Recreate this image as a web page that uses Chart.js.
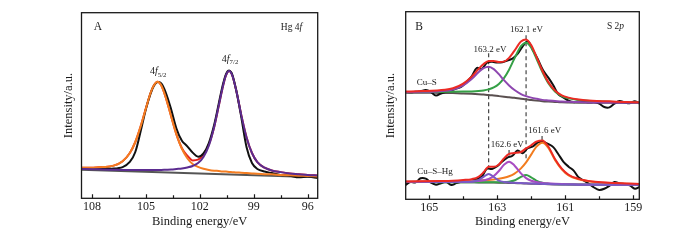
<!DOCTYPE html>
<html>
<head>
<meta charset="utf-8">
<title>Hg 4f and S 2p XPS spectra</title>
<script src="https://cdn.jsdelivr.net/npm/chart.js@4.4.1/dist/chart.umd.min.js"></script>
<style>
  html, body { margin: 0; padding: 0; background: #fff; }
  .wrap { position: relative; width: 700px; height: 240px; }
  .wrap canvas { position: absolute; top: 0; }
  #chartA { left: 0; }
  #chartB { left: 350px; }
</style>
</head>
<body>
<div class="wrap">
  <canvas id="chartA" width="350" height="240"></canvas>
  <canvas id="chartB" width="350" height="240"></canvas>
</div>
<script>
// ---- Panel A: Hg 4f ----
const eA = [108.6, 108, 107.4, 106.8, 106.3, 105.9, 105.6, 105.3, 105.0, 104.75, 104.55, 104.36, 104.15, 103.9, 103.6, 103.3, 103.0, 102.7, 102.4, 102.1, 101.8, 101.5, 101.2, 100.95, 100.75, 100.55, 100.37, 100.2, 99.95, 99.7, 99.4, 99.1, 98.8, 98.4, 98.0, 97.5, 97.0, 96.5, 96.0, 95.44];
const hgData = [16.3, 15.9, 16.1, 16.0, 16.8, 19.6, 24.8, 36.0, 48.2, 56.3, 60.8, 62.6, 61.9, 57.0, 48.0, 37.5, 31.0, 28.0, 24.6, 22.4, 24.2, 29.8, 39.8, 51.0, 60.0, 66.8, 68.8, 66.8, 57.0, 44.0, 27.5, 19.0, 15.8, 14.4, 13.6, 12.6, 12.2, 11.3, 11.7, 11.0];
const hg5 = [16.4, 16.5, 16.8, 17.6, 20.0, 24.4, 30.2, 38.6, 48.6, 56.6, 61.0, 62.8, 60.9, 54.4, 44.2, 34.3, 26.7, 21.6, 18.5, 16.9, 15.9, 15.3, 14.9, 14.7, 14.5, 14.4, 14.2, 14.1, 13.9, 13.8, 13.6, 13.4, 13.2, 13.0, 12.9, 12.6, 12.4, 12.2, 12.0, 11.8];
const hg7 = [15.8, 15.7, 15.5, 15.4, 15.3, 15.3, 15.2, 15.2, 15.2, 15.2, 15.2, 15.3, 15.3, 15.4, 15.5, 15.8, 16.1, 16.6, 17.4, 19.0, 22.3, 28.4, 38.6, 49.8, 58.9, 66.2, 68.6, 66.3, 57.0, 45.1, 32.8, 24.4, 19.5, 16.5, 15.0, 14.1, 13.4, 13.0, 12.6, 12.3];
const hgFit = [16.4, 16.5, 16.8, 17.6, 20.0, 24.4, 30.2, 38.6, 48.6, 56.6, 61.0, 62.8, 60.9, 54.4, 44.2, 34.3, 27.0, 23.0, 20.4, 20.8, 23.6, 29.0, 38.6, 49.8, 58.9, 66.2, 68.6, 66.3, 57.0, 45.1, 32.8, 24.4, 19.5, 16.5, 15.0, 14.1, 13.4, 13.0, 12.6, 12.3];
const eAbase = [108.6, 95.44];
const hgBase = [15.4, 11.3];
const ticksA = [108, 105, 102, 99, 96];
const minorA = [106.5, 103.5, 100.5, 97.5];

// ---- Panel B: S 2p ----
const eB = [165.7, 165.2, 164.7, 164.3, 164.0, 163.75, 163.55, 163.4, 163.25, 163.1, 162.95, 162.8, 162.65, 162.5, 162.3, 162.15, 162.0, 161.85, 161.67, 161.5, 161.3, 161.1, 160.9, 160.6, 160.2, 159.7, 159.2, 158.8];
const cuSBase = [56.8, 56.8, 56.7, 56.6, 56.4, 56.2, 56.0, 55.8, 55.6, 55.3, 55.0, 54.7, 54.4, 54.1, 53.6, 53.3, 52.9, 52.6, 52.3, 52.1, 51.9, 51.7, 51.6, 51.5, 51.4, 51.4, 51.3, 51.3];
const cuS163 = [57.1, 57.3, 57.6, 58.5, 60.7, 64.1, 67.7, 69.9, 70.7, 69.4, 66.7, 63.5, 60.7, 58.4, 56.1, 55.0, 54.2, 53.6, 53.0, 52.7, 52.4, 52.1, 52.0, 51.8, 51.6, 51.6, 51.4, 51.4];
const cuS162 = [57.1, 57.2, 57.2, 57.3, 57.4, 57.5, 57.7, 58.0, 58.6, 59.6, 61.5, 64.6, 69.1, 74.7, 81.6, 83.5, 80.9, 75.2, 67.8, 62.0, 57.5, 55.0, 53.8, 52.9, 52.3, 52.0, 51.7, 51.6];
const cuSFit = [57.4, 57.7, 58.1, 59.2, 61.7, 65.4, 69.4, 72.1, 73.7, 73.7, 73.2, 73.4, 75.4, 79.0, 84.1, 85.2, 82.2, 76.2, 68.5, 62.6, 58.0, 55.4, 54.2, 53.2, 52.5, 52.2, 51.8, 51.7];
const cuSHgBase = [9.2, 9.2, 9.15, 9.1, 9.1, 9.05, 9.0, 9.0, 8.95, 8.9, 8.85, 8.8, 8.75, 8.65, 8.55, 8.45, 8.35, 8.25, 8.15, 8.05, 7.95, 7.9, 7.85, 7.8, 7.8, 7.75, 7.75, 7.7];
const cuSHg163 = [9.2, 9.2, 9.2, 9.2, 9.25, 9.4, 10.2, 12.0, 13.55, 11.9, 10.0, 9.25, 9.0, 8.8, 8.65, 8.5, 8.4, 8.3, 8.2, 8.1, 8.0, 7.9, 7.9, 7.8, 7.8, 7.75, 7.75, 7.7];
const cuSHg1626 = [9.3, 9.3, 9.3, 9.3, 9.4, 9.5, 9.7, 10.1, 10.8, 12.4, 15.1, 18.4, 20.05, 18.2, 13.8, 11.3, 9.9, 9.2, 8.75, 8.5, 8.3, 8.15, 8.05, 7.95, 7.9, 7.8, 7.8, 7.75];
const cuSHg162 = [9.2, 9.2, 9.15, 9.15, 9.15, 9.1, 9.05, 9.1, 9.05, 9.05, 9.05, 9.1, 9.35, 10.0, 11.95, 12.95, 11.75, 10.0, 8.8, 8.35, 8.15, 8.0, 7.95, 7.85, 7.85, 7.8, 7.75, 7.7];
const cuSHg1616 = [9.4, 9.5, 9.55, 9.65, 9.8, 9.9, 10.0, 10.2, 10.35, 10.6, 10.95, 11.5, 12.3, 13.6, 16.5, 19.7, 23.8, 27.95, 30.15, 27.55, 21.0, 16.0, 12.8, 10.7, 9.35, 8.65, 8.35, 8.15];
const cuSHgFit = [9.5, 9.6, 9.75, 9.95, 10.3, 10.75, 12.0, 14.4, 17.3, 17.3, 18.6, 21.8, 24.2, 24.65, 25.2, 27.15, 28.8, 30.7, 31.4, 28.3, 21.5, 16.4, 13.1, 10.9, 9.5, 8.8, 8.4, 8.2];
// measured spectra (finer step)
const eBd = [165.7, 165.55, 165.4, 165.25, 165.1, 164.95, 164.8, 164.65, 164.5, 164.35, 164.2, 164.05, 163.9, 163.75, 163.6, 163.45, 163.3, 163.15, 163.0, 162.85, 162.7, 162.55, 162.4, 162.25, 162.1, 161.95, 161.8, 161.65, 161.5, 161.35, 161.2, 161.05, 160.9, 160.75, 160.6, 160.45, 160.3, 160.15, 160.0, 159.85, 159.7, 159.55, 159.4, 159.25, 159.1, 158.95, 158.8];
const cuSData = [57.4, 57.0, 57.3, 57.6, 58.2, 57.2, 55.3, 56.4, 57.3, 57.9, 59.0, 60.0, 62.5, 65.5, 70.0, 69.5, 72.8, 73.3, 72.9, 73.1, 74.0, 75.0, 77.5, 81.5, 84.3, 79.5, 74.5, 68.8, 65.0, 60.8, 56.0, 54.2, 52.6, 51.8, 52.3, 52.1, 51.7, 51.8, 51.0, 49.2, 49.0, 51.0, 52.4, 51.6, 51.2, 52.3, 50.9];
const cuSHgData = [7.6, 9.2, 9.0, 11.2, 11.0, 8.9, 7.8, 8.6, 9.3, 7.6, 8.6, 9.4, 9.8, 10.3, 10.7, 12.2, 16.3, 16.2, 17.6, 20.2, 22.2, 23.2, 26.0, 24.6, 27.2, 28.2, 30.3, 30.6, 29.5, 27.8, 24.0, 20.0, 17.4, 15.3, 11.6, 10.0, 8.3, 6.3, 5.0, 5.6, 7.2, 9.2, 8.4, 8.2, 7.4, 5.6, 6.8];
// peak guide lines
const guide163 = [163.25, 163.25];
const guide163y = [77.8, 17.4];
const guide162 = [162.15, 162.15];
const guide162y = [87.5, 21.5];
const mark1626 = [162.65, 162.65];
const mark1626y = [26.3, 23.4];
const mark1616 = [161.68, 161.68];
const mark1616y = [33.8, 31.2];
const ticksB = [165, 163, 161, 159];
const minorB = [164, 162, 160];

const SERIF = "'Liberation Serif', 'Times New Roman', serif";

function pts(xs, ys) {
  return xs.map((x, i) => ({ x: x, y: ys[i] }));
}

function curve(label, xs, ys, color, extra) {
  return Object.assign({
    label: label,
    data: pts(xs, ys),
    borderColor: color,
    borderWidth: 2,
    pointRadius: 0,
    fill: false,
    cubicInterpolationMode: 'monotone'
  }, extra || {});
}

function guide(label, xs, ys, dashed) {
  return {
    label: label,
    data: pts(xs, ys),
    borderColor: '#333',
    borderWidth: 1.1,
    borderDash: dashed ? [4, 3] : [],
    pointRadius: 0,
    tension: 0,
    fill: false
  };
}

// draw text made of plain / italic / subscript parts
function drawRich(ctx, parts, cx, cy, size) {
  const fonts = parts.map(p => (p.it ? 'italic ' : '') + (p.sub ? size * 0.68 : size) + 'px ' + SERIF);
  let total = 0;
  const widths = parts.map((p, i) => {
    ctx.font = fonts[i];
    const w = ctx.measureText(p.t).width;
    total += w;
    return w;
  });
  let x = cx - total / 2;
  ctx.textBaseline = 'middle';
  ctx.textAlign = 'left';
  parts.forEach((p, i) => {
    ctx.font = fonts[i];
    ctx.fillText(p.t, x, p.sub ? cy + size * 0.32 : cy);
    x += widths[i];
  });
}

// frame box, inward ticks and annotations
const framePlugin = {
  id: 'frameTicks',
  afterDatasetsDraw(chart, args, opts) {
    const ctx = chart.ctx;
    const a = chart.chartArea;
    const xs = chart.scales.x;
    const ys = chart.scales.y;
    ctx.save();
    ctx.strokeStyle = '#1a1a1a';
    ctx.lineWidth = 1.3;
    ctx.strokeRect(a.left, a.top, a.right - a.left, a.bottom - a.top);
    ctx.lineWidth = 1.2;
    ctx.beginPath();
    opts.major.forEach(v => {
      const px = Math.round(xs.getPixelForValue(v)) + 0.5;
      ctx.moveTo(px, a.bottom);
      ctx.lineTo(px, a.bottom - 4);
    });
    opts.minor.forEach(v => {
      const px = Math.round(xs.getPixelForValue(v)) + 0.5;
      ctx.moveTo(px, a.bottom);
      ctx.lineTo(px, a.bottom - 3);
    });
    ctx.stroke();
    ctx.fillStyle = '#1a1a1a';
    opts.notes.forEach(n => {
      drawRich(ctx, n.parts, xs.getPixelForValue(n.x), ys.getPixelForValue(n.y), n.size);
    });
    ctx.restore();
  }
};

function makeChart(id, cfg) {
  return new Chart(document.getElementById(id), {
    type: 'line',
    data: { datasets: cfg.datasets },
    options: {
      responsive: false,
      animation: false,
      devicePixelRatio: 1,
      events: [],
      layout: { padding: cfg.padding },
      plugins: {
        legend: { display: false },
        tooltip: { enabled: false },
        frameTicks: { major: cfg.major, minor: cfg.minor, notes: cfg.notes }
      },
      scales: {
        x: {
          type: 'linear',
          reverse: true,
          min: cfg.xmin,
          max: cfg.xmax,
          grid: { display: false, drawTicks: false },
          border: { display: false },
          afterBuildTicks: s => { s.ticks = cfg.major.map(v => ({ value: v })); },
          afterFit: s => { s.height = cfg.xAxisHeight; },
          ticks: {
            autoSkip: false,
            maxRotation: 0,
            padding: 1,
            color: '#1a1a1a',
            font: { family: SERIF, size: 12 },
            callback: v => String(v)
          },
          title: {
            display: true,
            text: 'Binding energy/eV',
            color: '#1a1a1a',
            font: { family: SERIF, size: 12.5 },
            padding: { top: 0, bottom: 10.3 }
          }
        },
        y: {
          min: 0,
          max: 100,
          grid: { display: false, drawTicks: false },
          border: { display: false },
          ticks: { display: false },
          afterFit: s => { s.width = cfg.yAxisWidth; },
          title: {
            display: true,
            text: 'Intensity/a.u.',
            color: '#1a1a1a',
            font: { family: SERIF, size: 12.5 },
            padding: { top: cfg.yTitleOffset, bottom: 0 }
          }
        }
      }
    },
    plugins: [framePlugin]
  });
}

// first dataset is drawn on top
makeChart('chartA', {
  xmin: 95.44, xmax: 108.59,
  padding: { top: 12.7, right: 32.3, bottom: 0, left: 0 },
  xAxisHeight: 41.7, yAxisWidth: 81.5, yTitleOffset: 60.8,
  major: ticksA, minor: minorA,
  notes: [
    { parts: [{ t: 'A' }], x: 107.68, y: 92.5, size: 11.5 },
    { parts: [{ t: 'Hg 4' }, { t: 'f', it: true }], x: 96.9, y: 91.9, size: 9.5 },
    { parts: [{ t: '4' }, { t: 'f', it: true }, { t: '5/2', sub: true }], x: 104.32, y: 68.3, size: 10 },
    { parts: [{ t: '4' }, { t: 'f', it: true }, { t: '7/2', sub: true }], x: 100.32, y: 74.9, size: 10 }
  ],
  datasets: [
    curve('4f7/2', eA, hg7, '#5b2c90'),
    curve('4f5/2', eA, hg5, '#f47d21'),
    curve('Measured', eA, hgData, '#111', { cubicInterpolationMode: 'default', tension: 0.3 }),
    curve('Envelope', eA, hgFit, '#e5231f'),
    curve('Background', eAbase, hgBase, '#555', { tension: 0, cubicInterpolationMode: 'default' })
  ]
});

makeChart('chartB', {
  xmin: 158.82, xmax: 165.69,
  padding: { top: 11.7, right: 60.7, bottom: 0, left: 0 },
  xAxisHeight: 40.7, yAxisWidth: 55.7, yTitleOffset: 32.8,
  major: ticksB, minor: minorB,
  notes: [
    { parts: [{ t: 'B' }], x: 165.3, y: 91.8, size: 11.5 },
    { parts: [{ t: 'S 2' }, { t: 'p', it: true }], x: 159.52, y: 92.0, size: 9.5 },
    { parts: [{ t: '163.2 eV' }], x: 163.21, y: 80.0, size: 9 },
    { parts: [{ t: '162.1 eV' }], x: 162.14, y: 90.6, size: 9 },
    { parts: [{ t: 'Cu\u2013S' }], x: 165.07, y: 62.4, size: 9 },
    { parts: [{ t: 'Cu\u2013S\u2013Hg' }], x: 164.83, y: 14.7, size: 9 },
    { parts: [{ t: '162.6 eV' }], x: 162.7, y: 29.3, size: 9 },
    { parts: [{ t: '161.6 eV' }], x: 161.6, y: 36.4, size: 9 }
  ],
  datasets: [
    curve('Cu-S envelope', eB, cuSFit, '#ec2a24'),
    curve('Cu-S-Hg envelope', eB, cuSHgFit, '#ec2a24'),
    curve('Cu-S 163.2', eB, cuS163, '#8e47b0'),
    curve('Cu-S 162.1', eB, cuS162, '#35a046'),
    curve('Cu-S-Hg 163.2', eB, cuSHg163, '#7a5ac6'),
    curve('Cu-S-Hg 162.6', eB, cuSHg1626, '#a84cc2'),
    curve('Cu-S-Hg 162.1', eB, cuSHg162, '#35a046'),
    curve('Cu-S-Hg 161.6', eB, cuSHg1616, '#f27c1f'),
    curve('Cu-S data', eBd, cuSData, '#111', { cubicInterpolationMode: 'default', tension: 0.35 }),
    curve('Cu-S-Hg data', eBd, cuSHgData, '#111', { cubicInterpolationMode: 'default', tension: 0.35 }),
    curve('Cu-S background', eB, cuSBase, '#5a5050'),
    curve('Cu-S-Hg background', eB, cuSHgBase, '#5a5050'),
    guide('163.2 guide', guide163, guide163y, true),
    guide('162.1 guide', guide162, guide162y, true),
    guide('162.6 mark', mark1626, mark1626y, false),
    guide('161.6 mark', mark1616, mark1616y, false)
  ]
});
</script>
</body>
</html>
